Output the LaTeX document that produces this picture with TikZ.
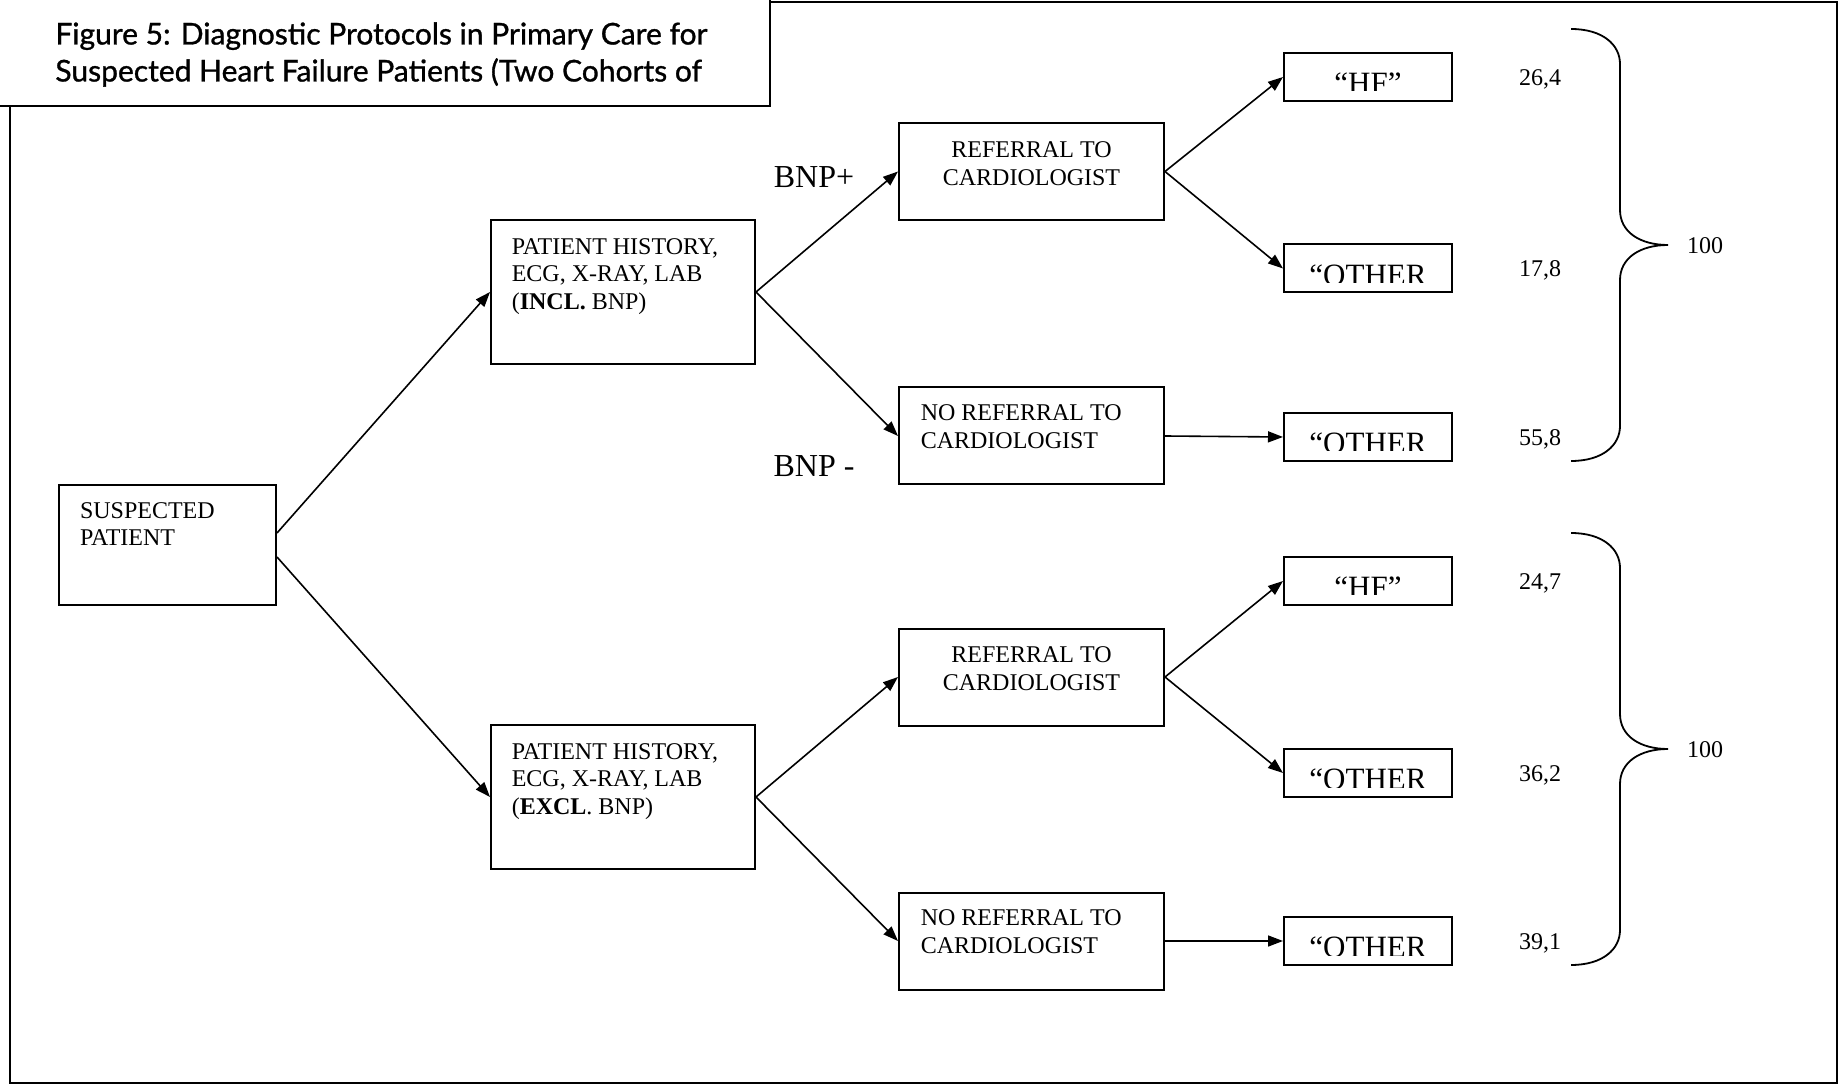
\documentclass[tikz,border=0pt]{standalone}
\usepackage{fontspec}
\setmainfont{Liberation Serif}
\newfontfamily\titlefont[FakeBold=1]{Lato}
\usetikzlibrary{arrows.meta,positioning,calc}
\definecolor{figInk}{HTML}{000000}
\tikzset{
  hf/base/.style={draw=figInk, line width=1pt, inner sep=0pt},
  hf/start/.style={hf/base, minimum width=108.5pt, minimum height=60pt},
  hf/stage/.style={hf/base, minimum width=132pt, minimum height=72pt},
  hf/decision/.style={hf/base, minimum width=132.5pt, minimum height=48.5pt},
  hf/outcome/.style={hf/base, minimum width=84pt, minimum height=24pt},
  hf/text/.style={inner sep=0pt, align=left, text=figInk,
    font=\fontsize{12}{13.8}\selectfont},
  hf/outtext/.style={inner sep=0pt, text=figInk, anchor=base,
    font=\fontsize{15.5}{18}\selectfont},
  hf/branch/.style={inner sep=0pt, text=figInk,
    font=\fontsize{16}{19}\selectfont},
  hf/count/.style={inner sep=0pt, text=figInk,
    font=\fontsize{12}{14}\selectfont},
  hf/arrow/.style={-{Triangle[length=7.5pt,width=5.5pt]}, draw=figInk,
    line width=0.8pt},
  hf/brace/.style={draw=figInk, line width=0.9pt},
  hf/frame/.style={draw=figInk, line width=0.75pt},
  hf/title/.style={inner sep=0pt, align=left, text=figInk,
    font=\titlefont\fontsize{15}{18.5}\selectfont},
}

\begin{document}
\begin{tikzpicture}[x=0.5pt, y=-0.5pt]
\useasboundingbox (0,0) rectangle (1843,1085);
% page frame and title tab
\draw[hf/frame] (770,2) -- (1837,2) -- (1837,1083) -- (10,1083) -- (10,106);
\draw[hf/frame, line width=1.2pt] (770,-6) -- (770,106) -- (-6,106);
\node[hf/title, anchor=north west] (title) at (55,22)
  {Figure 5: Diagnostic Protocols in Primary Care for\\Suspected Heart Failure Patients (Two Cohorts of};

% boxes
\node[hf/start] (sus) at (167.5,545) {};
\node[hf/stage] (hist1) at (623,292) {};
\node[hf/stage] (hist2) at (623,797) {};
\node[hf/decision] (ref1) at (1031.5,171.5) {};
\node[hf/decision] (noref1) at (1031.5,436) {};
\node[hf/decision] (ref2) at (1031.5,677) {};
\node[hf/decision] (noref2) at (1031.5,941) {};

% box texts
\node[hf/text, below right=9pt and 10.8pt of sus.north west] (sus-t) {SUSPECTED\\PATIENT};
\node[hf/text, below right=9.4pt and 10.7pt of hist1.north west] (hist1-t)
  {PATIENT HISTORY,\\ECG, X-RAY, LAB\\(\textbf{INCL.} BNP)};
\node[hf/text, below right=9.4pt and 10.7pt of hist2.north west] (hist2-t)
  {PATIENT HISTORY,\\ECG, X-RAY, LAB\\(\textbf{EXCL}. BNP)};
\node[hf/text, align=center, below=9.6pt of ref1.north] (ref1-t) {REFERRAL TO\\CARDIOLOGIST};
\node[hf/text, align=center, below=9.6pt of ref2.north] (ref2-t) {REFERRAL TO\\CARDIOLOGIST};
\node[hf/text, below right=9pt and 11.2pt of noref1.north west] (noref1-t) {NO REFERRAL TO\\CARDIOLOGIST};
\node[hf/text, below right=9pt and 11.2pt of noref2.north west] (noref2-t) {NO REFERRAL TO\\CARDIOLOGIST};

% outcome boxes (text cut off at the bottom as in the source)
\foreach \nm/\y/\txt/\val in {hf1/77/{“HF”}/{26,4}, oth1/268.5/{“OTHER}/{17,8},
    oth2/437/{“OTHER}/{55,8}, hf2/581/{“HF”}/{24,7}, oth3/773/{“OTHER}/{36,2},
    oth4/941/{“OTHER}/{39,1}}{
  \node[hf/outcome] (\nm) at (1368,\y) {};
  \begin{scope}
    \clip (\nm.north west) rectangle ([yshift=5.5pt]\nm.south east);
    \node[hf/outtext] (\nm-t) at ([yshift=4.2pt]\nm.south) {\txt};
  \end{scope}
  \node[hf/count] (\nm-n) at (1540,\y+2) {\val};
}

\node[hf/branch] (bnppos) at (814,177) {BNP+};
\node[hf/branch] (bnpneg) at (814,466) {BNP -};

% connectors
\draw[hf/arrow] ([yshift=6pt]sus.east) -- (hist1.west);
\draw[hf/arrow] ([yshift=-6pt]sus.east) -- (hist2.west);
\draw[hf/arrow] (hist1.east) -- (ref1.west);
\draw[hf/arrow] (hist1.east) -- (noref1.west);
\draw[hf/arrow] (hist2.east) -- (ref2.west);
\draw[hf/arrow] (hist2.east) -- (noref2.west);
\draw[hf/arrow] (ref1.east) -- (hf1.west);
\draw[hf/arrow] (ref1.east) -- (oth1.west);
\draw[hf/arrow] (noref1.east) -- (oth2.west);
\draw[hf/arrow] (ref2.east) -- (hf2.west);
\draw[hf/arrow] (ref2.east) -- (oth3.west);
\draw[hf/arrow] (noref2.east) -- (oth4.west);

% braces with totals
\foreach \t/\m/\b/\nm in {29/245/461/tot1, 533/749/965/tot2}{
  \draw[hf/brace] (1571,\t) .. controls (1603,\t) and (1620,\t+16) .. (1620,\t+35)
    -- (1620,\m-35) .. controls (1620,\m-13) and (1640,\m) .. (1668,\m)
    .. controls (1640,\m) and (1620,\m+13) .. (1620,\m+35)
    -- (1620,\b-35) .. controls (1620,\b-16) and (1603,\b) .. (1571,\b);
  \node[hf/count] (\nm) at (1705,\m+1) {100};
}
\end{tikzpicture}
\end{document}
